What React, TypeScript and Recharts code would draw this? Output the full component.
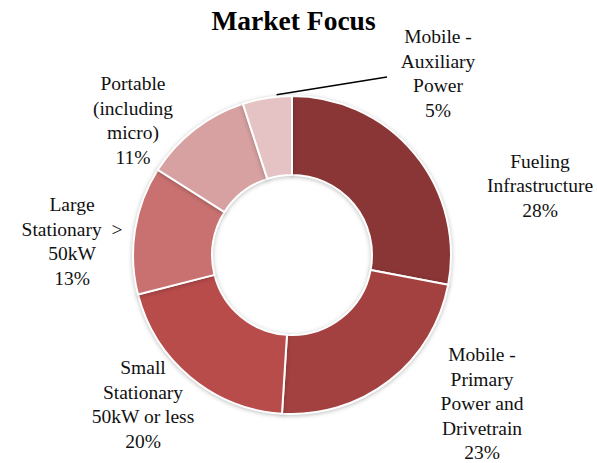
import { PieChart, Pie, Cell } from 'recharts'

// Market focus shares (percent), clockwise from 12 o'clock
const segments = [
  'Fueling Infrastructure',
  'Mobile - Primary Power and Drivetrain',
  'Small Stationary 50kW or less',
  'Large Stationary > 50kW',
  'Portable (including micro)',
  'Mobile - Auxiliary Power',
]
const shares = [28, 23, 20, 13, 11, 5]
const labelLines = [
  ['Fueling', 'Infrastructure', '28%'],
  ['Mobile -', 'Primary', 'Power and', 'Drivetrain', '23%'],
  ['Small', 'Stationary', '50kW or less', '20%'],
  ['Large', 'Stationary  >', '50kW', '13%'],
  ['Portable', '(including', 'micro)', '11%'],
  ['Mobile -', 'Auxiliary', 'Power', '5%'],
]
const colors = ['#8a3636', '#a34140', '#b84c4b', '#c87170', '#d6a1a0', '#e5c2c3']

const data = segments.map((name, i) => ({ name, value: shares[i] }))

// label block centres, relative to the pie centre
const labelOffsets = [
  [248, -70],
  [190, 148],
  [-149, 149],
  [-220, -14],
  [-159, -135],
  [146, -182],
]

const W = 597
const H = 463
const CX = 292
const CY = 255
const LINE_H = 24.5
const RAD = Math.PI / 180

const renderLabel = (props: any) => {
  const { cx, cy, index, midAngle, outerRadius } = props
  const lines = labelLines[index]
  const [dx, dy] = labelOffsets[index]
  const x = cx + dx
  const yc = cy + dy
  const top = yc - ((lines.length - 1) / 2) * LINE_H
  let leader = null
  if (index === 5) {
    // leader line for the small slice, starting just outside the arc
    const a = (midAngle - 3.5) * RAD
    const sx = cx + (outerRadius + 2) * Math.cos(-a)
    const sy = cy + (outerRadius + 2) * Math.sin(-a)
    leader = <line x1={sx} y1={sy} x2={x - 51} y2={yc + 4} stroke="#000" strokeWidth={1.5} />
  }
  return (
    <g key={`lbl-${index}`}>
      {leader}
      <text
        x={x}
        y={top}
        textAnchor="middle"
        fill="#111"
        style={{ fontFamily: '"Liberation Serif", serif', fontSize: 19.5 }}
      >
        {lines.map((l, i) => (
          <tspan key={i} x={x} y={top + i * LINE_H + 7} style={{ whiteSpace: 'pre' }}>
            {l}
          </tspan>
        ))}
      </text>
    </g>
  )
}

export default function App() {
  return (
    <div style={{ position: 'absolute', left: 0, top: 0, width: W, height: H, background: '#fff' }}>
      <div
        style={{
          position: 'absolute',
          left: 0,
          top: 5,
          width: 587,
          textAlign: 'center',
          fontFamily: '"Liberation Serif", serif',
          fontWeight: 'bold',
          fontSize: 27.5,
          color: '#000',
        }}
      >
        Market Focus
      </div>
      <PieChart width={W} height={H} margin={{ top: 0, right: 0, bottom: 0, left: 0 }}>
        <Pie
          data={data}
          dataKey="value"
          nameKey="name"
          cx={CX}
          cy={CY}
          innerRadius={80}
          outerRadius={159}
          startAngle={90}
          endAngle={-270}
          stroke="#fff"
          strokeWidth={2}
          label={renderLabel}
          labelLine={false}
          isAnimationActive={false}
        >
          {data.map((d, i) => (
            <Cell
              key={d.name}
              fill={colors[i]}
              style={{ filter: 'drop-shadow(0px 1px 2px rgba(0,0,0,0.25))' }}
            />
          ))}
        </Pie>
      </PieChart>
    </div>
  )
}
